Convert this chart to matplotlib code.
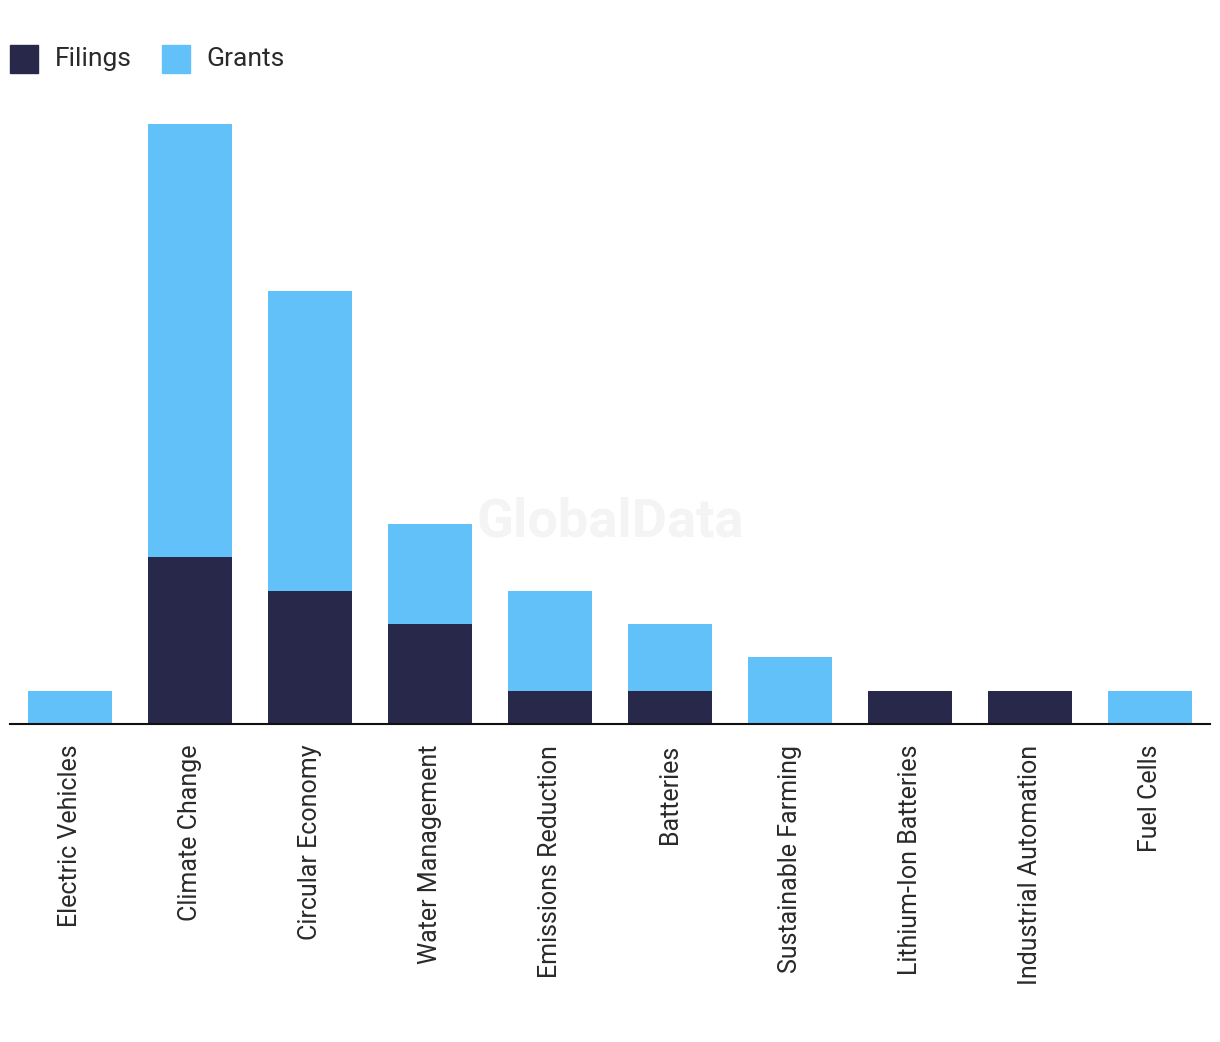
import matplotlib
matplotlib.use("Agg")
import matplotlib.pyplot as plt
from matplotlib.patches import Rectangle

categories = ["Electric Vehicles", "Climate Change", "Circular Economy", "Water Management",
              "Emissions Reduction", "Batteries", "Sustainable Farming", "Lithium-Ion Batteries",
              "Industrial Automation", "Fuel Cells"]
filings = [0, 5, 4, 3, 1, 1, 0, 1, 1, 0]
grants = [1, 13, 9, 3, 3, 2, 2, 0, 0, 1]

c_fil = "#27284a"
c_gra = "#62c1f9"

plt.rcParams['font.family'] = ['Roboto', 'DejaVu Sans']
fig = plt.figure(figsize=(12.2, 10.42), dpi=100)
W, H = 1220, 1042
ax = fig.add_axes([10 / W, (H - 724) / H, 1200 / W, 600 / H])
x = list(range(len(categories)))
ax.bar(x, filings, width=0.7, color=c_fil, zorder=2)
ax.bar(x, grants, width=0.7, bottom=filings, color=c_gra, zorder=2)
ax.set_xlim(-0.5, len(categories) - 0.5)
ax.set_ylim(0, 18)
for s in ["top", "right", "left"]:
    ax.spines[s].set_visible(False)
ax.spines["bottom"].set_linewidth(1.5)
ax.spines["bottom"].set_color("#111111")
ax.set_yticks([])
ax.set_xticks(x)
ax.set_xticklabels(categories, rotation=90, fontsize=18, color="#2a2a2a", va="top")
ax.tick_params(axis="x", length=0, pad=15)
ax.set_facecolor("none")

fig.text(610 / W, 1 - 522 / H, "GlobalData", ha="center", va="center", fontsize=39,
         fontweight="bold", color="#f4f4f4", zorder=0)

# legend
fig.patches.append(Rectangle((10 / W, 1 - 73 / H), 28 / W, 28 / H, transform=fig.transFigure,
                             color=c_fil, figure=fig))
fig.text(55 / W, 1 - 59 / H, "Filings", ha="left", va="center", fontsize=19, color="#2a2a2a")
fig.patches.append(Rectangle((162 / W, 1 - 73 / H), 28 / W, 28 / H, transform=fig.transFigure,
                             color=c_gra, figure=fig))
fig.text(206 / W, 1 - 59 / H, "Grants", ha="left", va="center", fontsize=19, color="#2a2a2a")

fig.savefig("out.png", dpi=100, facecolor="white")
